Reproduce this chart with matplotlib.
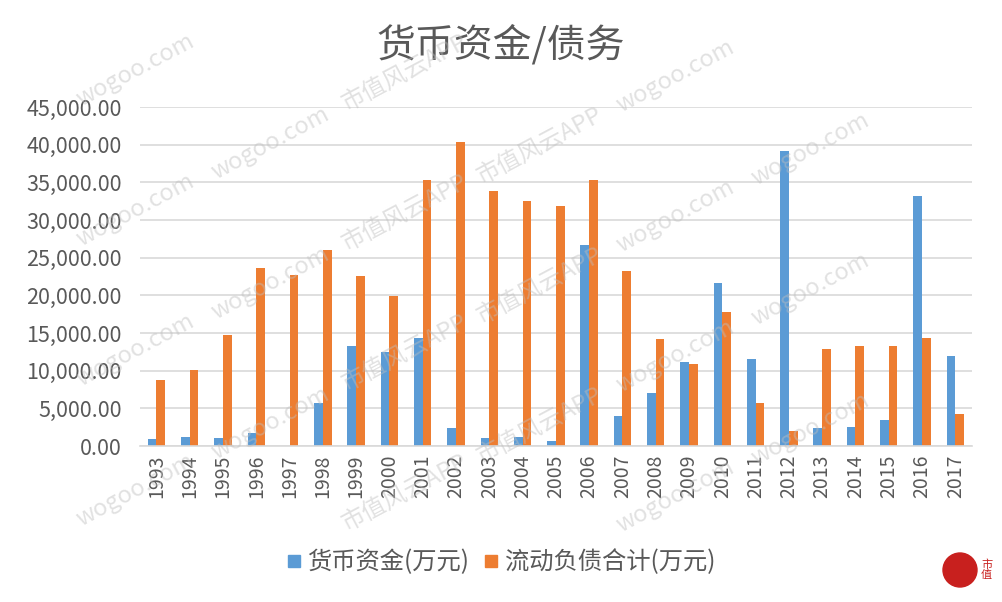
import numpy as np
import matplotlib
matplotlib.use("Agg")
from matplotlib import pyplot as plt
from matplotlib.lines import Line2D
from matplotlib.patches import Circle
from matplotlib.ticker import FuncFormatter, MultipleLocator

plt.rcParams["font.family"] = ["Noto Sans CJK SC", "DejaVu Sans"]

years = [str(y) for y in range(1993, 2018)]
cash = [900, 1250, 1060, 1680, 0, 5700, 13230, 12530, 14380, 2350,
        1060, 1250, 720, 26730, 4030, 6990, 11200, 21680, 11550, 39240,
        2350, 2520, 3500, 33140, 11940]
liab = [8800, 10140, 14730, 23600, 22650, 25970, 22520, 19870, 35350, 40340,
        33890, 32600, 31850, 35350, 23180, 14160, 10840, 17830, 5670, 1990,
        12870, 13230, 13230, 14380, 4210]

title = "货币资金/债务"
name_cash = "货币资金(万元)"
name_liab = "流动负债合计(万元)"

blue = "#5B9BD5"
orange = "#ED7D31"
txt = "#595959"

fig = plt.figure(figsize=(10.02, 6.02), dpi=100)
ax = fig.add_axes([0.1395, 0.259, 0.8305, 0.563])
ax.patch.set_alpha(0)

x = np.arange(len(years))
w = 0.26
ax.bar(x - w / 2, cash, w, color=blue, zorder=2)
ax.bar(x + w / 2, liab, w, color=orange, zorder=2)

ax.set_xlim(-0.5, len(years) - 0.5)
ax.set_ylim(0, 45000)
ax.yaxis.set_major_locator(MultipleLocator(5000))
ax.yaxis.set_major_formatter(FuncFormatter(lambda v, p: "{:,.2f}".format(v)))
ax.grid(axis="y", color="#D9D9D9", linewidth=1.2, zorder=0)
ax.set_axisbelow(True)
for s in ["top", "right", "left"]:
    ax.spines[s].set_visible(False)
ax.spines["bottom"].set_color("#D9D9D9")
ax.spines["bottom"].set_linewidth(1.2)
ax.set_xticks(x)
ax.set_xticklabels(years, rotation=90, fontsize=14, color=txt)
ax.tick_params(axis="y", labelsize=15.5, labelcolor=txt, length=0, pad=13)
ax.tick_params(axis="x", length=0, pad=6)

fig.text(0.5, 0.925, title, ha="center", va="center", fontsize=28, color=txt)

handles = [Line2D([], [], linestyle="none", marker="s", markersize=8,
                  color=c) for c in (blue, orange)]
fig.legend(handles, [name_cash, name_liab], loc="center",
           bbox_to_anchor=(0.5, 0.066), ncol=2, frameon=False,
           fontsize=17.5, labelcolor=txt, handlelength=0.6,
           handletextpad=0.25, columnspacing=0.6)

# watermark
marks = ["市值风云APP", "wogoo.com"]
for r in range(-6, 12):
    for c in range(-2, 8):
        wx = c * 270 + (r % 2) * 135
        wy = 602 - (r * 70 + c * 143)
        if 80 < wx < 920 and 50 < wy < 555:
            fig.text(wx / 1002, wy / 602, marks[(r + c) % 2], rotation=28,
                     fontsize=17, color="#BEBEBE", alpha=0.45,
                     ha="center", va="center", zorder=10)

# logo
fig.patches.append(Circle((9.60, 0.32), 0.17, transform=fig.dpi_scale_trans,
                          color="#C8201E", zorder=11))
fig.text(0.979, 0.053, "市\n值", fontsize=8, color="#C8201E", ha="left",
         va="center", linespacing=1.0)

fig.savefig("out.png", dpi=100)
